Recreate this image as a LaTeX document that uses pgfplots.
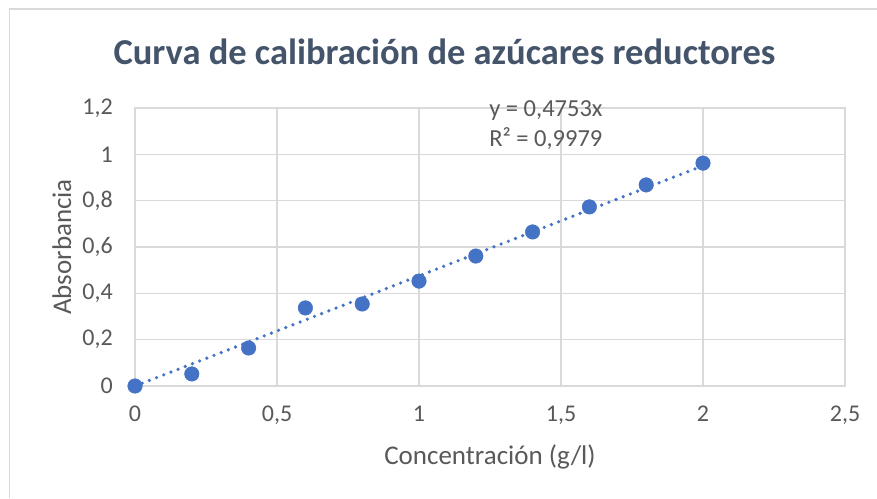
\documentclass[border=0pt]{standalone}
\usepackage{fontspec}
\setmainfont{Carlito}
\usepackage{pgfplots}
\pgfplotsset{compat=1.18}
\definecolor{exblue}{HTML}{4472C4}
\definecolor{txtgray}{HTML}{595959}
\definecolor{titlec}{HTML}{44546A}
\definecolor{gridc}{HTML}{D9D9D9}
\begin{document}
\begin{tikzpicture}
\useasboundingbox (0pt,0pt) rectangle (877pt,498pt);
\fill[white] (0pt,0pt) rectangle (877pt,498pt);
\draw[gridc, line width=1.5pt] (9.5pt,0pt) -- (9.5pt,489pt) -- (877pt,489pt);
\node[font=\fontsize{36.5}{42}\selectfont\bfseries, text=titlec] at (444.5pt,446pt) {Curva de calibración de azúcares reductores};
\begin{axis}[
  at={(135pt,112pt)}, anchor=origin,
  scale only axis, width=710pt, height=278pt,
  xmin=0, xmax=2.5, ymin=0, ymax=1.2,
  xtick={0,0.5,...,2.5}, ytick={0,0.2,...,1.2},
  /pgf/number format/assume math mode=true,
  /pgf/number format/use comma,
  grid=major, major grid style={gridc, line width=1.2pt},
  axis line style={gridc, line width=1.2pt},
  tick style={draw=none},
  ticklabel style={font=\fontsize{24}{28}\selectfont, text=txtgray, inner sep=0pt},
  xticklabel style={anchor=north, yshift=-20pt},
  yticklabel style={anchor=east, xshift=-22pt},
  xlabel={Concentración (g/l)}, ylabel={Absorbancia},
  label style={font=\fontsize{27}{32}\selectfont, text=txtgray},
  xlabel style={at={(axis description cs:0.5,-0.255)}, anchor=center},
  ylabel style={at={(axis description cs:-0.103,0.5)}, anchor=center},
  clip=false,
]
\addplot[exblue, line width=3.6pt, dash pattern=on 0pt off 7.7pt, line cap=round] coordinates {(0,0) (2,0.9506)};
\addplot[only marks, mark=*, mark size=7.3pt, mark options={draw=exblue, fill=exblue}] coordinates {
(0,0) (0.2,0.052) (0.4,0.164) (0.6,0.337) (0.8,0.354) (1.0,0.453) (1.2,0.561) (1.4,0.665) (1.6,0.773) (1.8,0.868) (2.0,0.962)};
\node[font=\fontsize{24.5}{30}\selectfont, text=txtgray, align=left] at (axis cs:1.447,1.125) {y = 0,4753x\\R² = 0,9979};
\end{axis}
\end{tikzpicture}
\end{document}
